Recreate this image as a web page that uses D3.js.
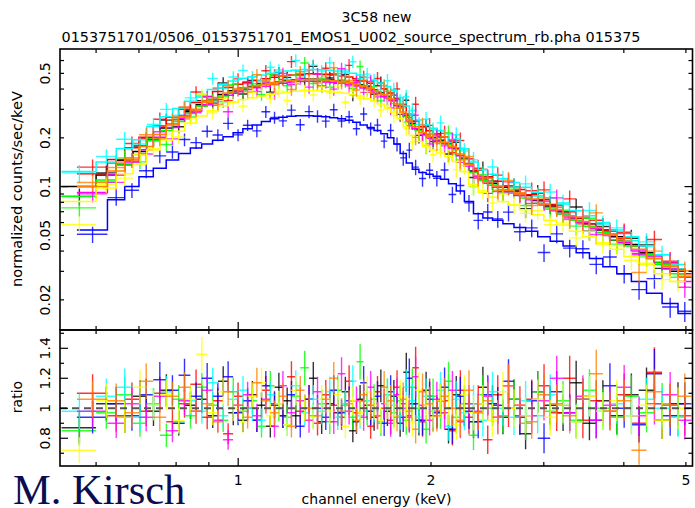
<!DOCTYPE html>
<html>
<head>
<meta charset="utf-8">
<script src="https://cdn.jsdelivr.net/npm/d3@7.9.0/dist/d3.min.js"></script>
<style>
  body { margin: 0; background: #fff; }
  svg { display: block; }
  text { font-family: "DejaVu Sans", sans-serif; fill: #000; }
  text.sig { font-family: "Liberation Serif", "Times New Roman", serif; fill: #0c0c50; }
</style>
</head>
<body>
<svg id="chart" width="695" height="508"></svg>
<script>
// bin edges in keV (two groupings, the spectra are binned differently)
const edgesA = [0.53, 0.60, 0.645, 0.685, 0.72, 0.755, 0.79, 0.825, 0.86, 0.895, 0.93, 0.965, 1.00, 1.035, 1.07, 1.105, 1.14, 1.175, 1.21, 1.25, 1.29, 1.33, 1.37, 1.41, 1.45, 1.49, 1.53, 1.57, 1.61, 1.65, 1.69, 1.73, 1.77, 1.81, 1.85, 1.89, 1.94, 1.99, 2.04, 2.10, 2.16, 2.22, 2.29, 2.37, 2.45, 2.54, 2.64, 2.75, 2.87, 3.00, 3.14, 3.29, 3.45, 3.62, 3.80, 4.00, 4.22, 4.46, 4.72, 5.00];
const edgesB = [0.56, 0.625, 0.665, 0.70, 0.737, 0.772, 0.807, 0.842, 0.877, 0.912, 0.947, 0.982, 1.017, 1.052, 1.087, 1.122, 1.157, 1.192, 1.23, 1.27, 1.31, 1.35, 1.39, 1.43, 1.47, 1.51, 1.55, 1.59, 1.63, 1.67, 1.71, 1.75, 1.79, 1.83, 1.87, 1.915, 1.965, 2.015, 2.07, 2.13, 2.19, 2.255, 2.33, 2.41, 2.495, 2.59, 2.695, 2.81, 2.935, 3.07, 3.215, 3.37, 3.535, 3.71, 3.90, 4.11, 4.34, 4.59, 4.86, 5.10];

// fractional 1-sigma errors per bin
const errA = [0.12, 0.11, 0.11, 0.1, 0.1, 0.095, 0.09, 0.09, 0.085, 0.085, 0.085, 0.085, 0.085, 0.085, 0.085, 0.085, 0.085, 0.085, 0.09, 0.09, 0.09, 0.09, 0.09, 0.09, 0.09, 0.09, 0.09, 0.095, 0.095, 0.095, 0.1, 0.1, 0.1, 0.105, 0.11, 0.11, 0.11, 0.11, 0.11, 0.11, 0.115, 0.12, 0.12, 0.12, 0.12, 0.12, 0.125, 0.125, 0.125, 0.125, 0.125, 0.125, 0.125, 0.13, 0.13, 0.13, 0.135, 0.135, 0.14];
const errB = [0.115, 0.11, 0.105, 0.1, 0.1, 0.09, 0.09, 0.085, 0.085, 0.085, 0.085, 0.085, 0.08, 0.085, 0.085, 0.085, 0.085, 0.085, 0.085, 0.09, 0.09, 0.09, 0.09, 0.09, 0.09, 0.09, 0.095, 0.095, 0.095, 0.095, 0.1, 0.1, 0.105, 0.11, 0.11, 0.11, 0.11, 0.11, 0.115, 0.115, 0.12, 0.12, 0.12, 0.12, 0.12, 0.125, 0.125, 0.125, 0.125, 0.125, 0.125, 0.13, 0.13, 0.13, 0.13, 0.135, 0.135, 0.14, 0.14];

// folded model, normalized counts/sec/keV
const modelBlack = [0.100, 0.118, 0.145, 0.165, 0.20, 0.23, 0.26, 0.29, 0.32, 0.345, 0.37, 0.39, 0.405, 0.415, 0.425, 0.435, 0.443, 0.45, 0.455, 0.46, 0.46, 0.458, 0.455, 0.45, 0.443, 0.435, 0.425, 0.41, 0.395, 0.38, 0.36, 0.34, 0.31, 0.275, 0.245, 0.225, 0.21, 0.2, 0.193, 0.185, 0.172, 0.15, 0.125, 0.112, 0.105, 0.099, 0.094, 0.088, 0.082, 0.076, 0.070, 0.064, 0.059, 0.054, 0.049, 0.044, 0.039, 0.034, 0.030];
const modelRed = [0.12, 0.147, 0.174, 0.202, 0.237, 0.268, 0.3, 0.331, 0.36, 0.386, 0.409, 0.428, 0.441, 0.452, 0.463, 0.474, 0.482, 0.488, 0.494, 0.497, 0.496, 0.493, 0.488, 0.483, 0.475, 0.464, 0.451, 0.435, 0.419, 0.4, 0.378, 0.351, 0.313, 0.281, 0.254, 0.234, 0.221, 0.212, 0.203, 0.191, 0.172, 0.148, 0.126, 0.115, 0.108, 0.101, 0.096, 0.089, 0.083, 0.077, 0.07, 0.064, 0.059, 0.054, 0.048, 0.043, 0.038, 0.034, 0.029];
const modelGreen = [0.087, 0.11, 0.138, 0.158, 0.192, 0.222, 0.252, 0.283, 0.313, 0.338, 0.363, 0.384, 0.4, 0.411, 0.421, 0.431, 0.439, 0.446, 0.451, 0.456, 0.456, 0.454, 0.451, 0.446, 0.439, 0.431, 0.421, 0.406, 0.391, 0.376, 0.356, 0.336, 0.306, 0.272, 0.242, 0.222, 0.207, 0.197, 0.19, 0.182, 0.169, 0.147, 0.122, 0.109, 0.102, 0.096, 0.091, 0.085, 0.079, 0.074, 0.068, 0.062, 0.057, 0.052, 0.047, 0.043, 0.038, 0.033, 0.029];
const modelBlue = [0.054, 0.083, 0.1, 0.115, 0.13, 0.146, 0.16, 0.173, 0.183, 0.193, 0.203, 0.215, 0.228, 0.24, 0.252, 0.262, 0.268, 0.272, 0.274, 0.274, 0.272, 0.27, 0.266, 0.262, 0.257, 0.25, 0.24, 0.232, 0.222, 0.212, 0.2, 0.183, 0.16, 0.14, 0.128, 0.122, 0.119, 0.116, 0.111, 0.104, 0.094, 0.081, 0.068, 0.064, 0.062, 0.059, 0.056, 0.053, 0.049, 0.046, 0.043, 0.039, 0.036, 0.032, 0.029, 0.026, 0.022, 0.019, 0.0165];
const modelCyan = [0.124, 0.142, 0.172, 0.195, 0.235, 0.27, 0.303, 0.336, 0.37, 0.398, 0.426, 0.448, 0.466, 0.477, 0.489, 0.5, 0.509, 0.517, 0.523, 0.529, 0.529, 0.527, 0.523, 0.517, 0.509, 0.5, 0.488, 0.471, 0.454, 0.436, 0.413, 0.39, 0.355, 0.315, 0.281, 0.258, 0.241, 0.229, 0.221, 0.212, 0.197, 0.171, 0.142, 0.127, 0.119, 0.112, 0.106, 0.099, 0.092, 0.085, 0.078, 0.071, 0.066, 0.06, 0.054, 0.049, 0.043, 0.038, 0.033];
const modelMagenta = [0.092, 0.118, 0.142, 0.169, 0.202, 0.232, 0.262, 0.292, 0.32, 0.345, 0.367, 0.385, 0.397, 0.407, 0.417, 0.427, 0.434, 0.44, 0.445, 0.447, 0.446, 0.443, 0.439, 0.434, 0.427, 0.418, 0.406, 0.391, 0.377, 0.359, 0.34, 0.316, 0.282, 0.252, 0.228, 0.211, 0.199, 0.191, 0.184, 0.173, 0.155, 0.134, 0.115, 0.105, 0.099, 0.093, 0.088, 0.083, 0.077, 0.071, 0.065, 0.06, 0.055, 0.05, 0.045, 0.04, 0.036, 0.031, 0.026];
const modelYellow = [0.081, 0.098, 0.12, 0.138, 0.168, 0.194, 0.22, 0.247, 0.273, 0.294, 0.316, 0.333, 0.345, 0.354, 0.362, 0.371, 0.377, 0.383, 0.388, 0.392, 0.392, 0.39, 0.388, 0.383, 0.377, 0.37, 0.362, 0.349, 0.336, 0.323, 0.306, 0.289, 0.263, 0.233, 0.207, 0.19, 0.177, 0.168, 0.161, 0.154, 0.143, 0.124, 0.103, 0.092, 0.086, 0.081, 0.077, 0.072, 0.067, 0.062, 0.058, 0.053, 0.049, 0.045, 0.041, 0.037, 0.033, 0.029, 0.026];
const modelOrange = [0.1, 0.125, 0.15, 0.177, 0.21, 0.24, 0.27, 0.3, 0.33, 0.355, 0.378, 0.396, 0.409, 0.419, 0.429, 0.439, 0.446, 0.452, 0.457, 0.459, 0.458, 0.455, 0.451, 0.446, 0.439, 0.429, 0.417, 0.402, 0.387, 0.369, 0.349, 0.324, 0.289, 0.259, 0.234, 0.216, 0.204, 0.196, 0.188, 0.177, 0.159, 0.137, 0.117, 0.107, 0.101, 0.095, 0.09, 0.084, 0.078, 0.072, 0.066, 0.061, 0.056, 0.051, 0.046, 0.041, 0.036, 0.032, 0.028];

// data / model
const ratioBlack = [0.87, 1.03, 0.94, 1.08, 0.98, 1.12, 0.90, 1.02, 1.06, 0.95, 1.18, 0.97, 0.92, 1.09, 1.02, 0.88, 1.14, 1.05, 0.95, 1.00, 1.20, 0.91, 1.03, 0.97, 1.11, 0.85, 1.06, 1.02, 0.94, 1.15, 0.98, 1.08, 0.90, 1.24, 1.03, 0.92, 1.12, 0.95, 1.05, 0.86, 1.09, 1.00, 0.91, 1.14, 1.03, 0.94, 1.06, 0.83, 1.11, 1.02, 0.97, 1.17, 0.90, 1.05, 0.95, 1.09, 1.12, 0.92, 1.03];
const ratioRed = [1.10, 0.95, 1.06, 0.98, 1.10, 0.91, 1.03, 1.16, 0.94, 1.05, 0.83, 1.08, 1.00, 0.92, 1.12, 1.03, 0.95, 1.21, 0.98, 1.06, 0.90, 1.09, 1.02, 0.94, 1.18, 0.97, 1.05, 0.88, 1.11, 1.00, 0.92, 1.14, 1.03, 0.95, 1.27, 0.91, 1.08, 0.98, 1.05, 0.85, 1.12, 0.94, 1.03, 0.79, 1.09, 1.00, 0.95, 1.06, 1.15, 0.97, 1.20, 0.92, 1.05, 0.98, 1.09, 0.90, 1.24, 1.02, 0.95];
const ratioGreen = [0.85, 0.97, 1.09, 0.90, 1.03, 0.82, 1.06, 0.95, 1.14, 1.02, 0.92, 1.11, 0.98, 1.05, 0.88, 1.15, 1.00, 0.94, 1.08, 1.27, 0.95, 1.03, 0.91, 1.12, 1.02, 0.94, 1.31, 0.98, 1.06, 0.90, 1.09, 0.97, 1.05, 0.92, 1.14, 1.00, 0.86, 1.08, 0.97, 1.18, 0.94, 1.03, 0.82, 1.09, 1.00, 0.95, 1.06, 0.90, 1.11, 0.98, 1.05, 0.92, 1.12, 1.00, 0.94, 1.08, 0.97, 1.03, 0.95];
const ratioBlue = [0.94, 1.03, 0.95, 1.09, 1.19, 1.12, 1.22, 1.08, 1.20, 1.08, 1.21, 0.97, 1.05, 0.92, 1.15, 1.02, 0.95, 1.09, 0.88, 1.06, 1.00, 0.94, 1.12, 0.97, 1.05, 0.91, 1.17, 0.98, 1.08, 0.90, 1.11, 1.00, 0.94, 1.20, 1.03, 0.92, 1.06, 0.97, 1.14, 0.86, 1.08, 0.98, 0.91, 1.09, 1.02, 1.18, 0.94, 1.05, 0.80, 1.11, 0.97, 1.06, 0.92, 1.15, 1.00, 0.89, 1.23, 0.95, 1.03];
const ratioCyan = [0.98, 1.08, 1.14, 0.94, 1.03, 1.11, 0.91, 1.05, 0.98, 1.17, 0.95, 1.06, 1.12, 1.00, 0.92, 1.09, 1.03, 0.89, 1.15, 0.97, 1.06, 0.98, 1.11, 0.94, 1.03, 1.18, 0.95, 1.05, 1.00, 0.91, 1.09, 1.02, 0.95, 1.14, 1.05, 0.94, 1.08, 0.98, 1.12, 0.88, 1.06, 0.97, 1.03, 0.92, 1.11, 1.00, 0.94, 1.05, 0.95, 1.09, 1.02, 0.91, 1.08, 0.98, 1.03, 0.95, 1.06, 1.00, 0.94];
const ratioMagenta = [0.98, 0.90, 1.03, 0.94, 1.08, 0.85, 1.05, 0.98, 1.12, 0.92, 0.79, 1.02, 1.09, 0.95, 1.06, 0.88, 1.15, 0.97, 1.05, 0.92, 1.11, 1.00, 0.91, 1.23, 0.98, 1.05, 0.94, 1.14, 0.95, 1.03, 0.90, 1.09, 1.00, 0.94, 1.21, 1.02, 0.92, 1.06, 0.97, 1.12, 0.91, 1.03, 0.98, 1.08, 0.94, 1.15, 1.02, 0.95, 1.05, 1.20, 0.97, 1.08, 0.92, 1.02, 1.14, 0.95, 1.03, 1.09, 0.92];
const ratioYellow = [0.72, 1.05, 0.94, 1.14, 1.02, 1.09, 0.92, 1.06, 1.36, 0.97, 1.11, 1.00, 0.91, 1.08, 1.17, 0.95, 1.03, 0.89, 1.12, 1.00, 0.94, 1.06, 0.98, 1.09, 0.88, 1.05, 0.97, 1.11, 1.02, 0.92, 1.03, 0.95, 1.08, 0.98, 0.91, 1.12, 1.02, 0.94, 1.05, 1.00, 0.89, 1.09, 0.97, 1.03, 0.92, 1.11, 1.00, 0.95, 1.06, 0.94, 1.03, 0.91, 1.08, 0.98, 1.05, 0.95, 1.02, 0.92, 1.00];
const ratioOrange = [1.06, 1.05, 0.97, 1.18, 0.94, 1.08, 1.14, 0.98, 1.03, 0.91, 1.11, 1.02, 0.94, 1.17, 1.05, 0.97, 1.08, 0.88, 1.12, 1.00, 0.95, 1.06, 1.20, 0.98, 1.03, 0.92, 1.09, 1.02, 0.95, 1.14, 1.05, 0.94, 1.06, 0.98, 0.86, 1.11, 1.03, 0.95, 1.08, 1.00, 0.92, 1.12, 0.97, 1.05, 0.94, 1.15, 1.02, 0.91, 1.09, 1.03, 0.95, 1.06, 1.23, 0.98, 1.05, 0.72, 1.11, 1.02, 1.08];

// axis ticks
const xMajor = [1];
const xMinor = [0.6, 0.7, 0.8, 0.9, 2, 3, 4, 5];
const xTickLabels = [1, 2, 5];
const yMajor = [0.1];
const yMinor = [0.02, 0.03, 0.04, 0.05, 0.06, 0.07, 0.08, 0.09, 0.2, 0.3, 0.4, 0.5, 0.6];
const yTickLabels = [0.02, 0.05, 0.1, 0.2, 0.5];
const rMajor = [0.8, 1.0, 1.2, 1.4];
const rMinor = [0.7, 0.9, 1.1, 1.3, 1.5];
const rTickLabels = ["0.8", "1", "1.2", "1.4"];

const spectra = [
  { color: "#000000", edges: edgesA, err: errA, model: modelBlack, ratio: ratioBlack },
  { color: "#ff0000", edges: edgesB, err: errB, model: modelRed, ratio: ratioRed },
  { color: "#00ff00", edges: edgesA, err: errA, model: modelGreen, ratio: ratioGreen },
  { color: "#0000ff", edges: edgesB, err: errB, model: modelBlue, ratio: ratioBlue },
  { color: "#00ffff", edges: edgesA, err: errA, model: modelCyan, ratio: ratioCyan },
  { color: "#ff00ff", edges: edgesB, err: errB, model: modelMagenta, ratio: ratioMagenta },
  { color: "#ffff00", edges: edgesA, err: errA, model: modelYellow, ratio: ratioYellow },
  { color: "#ff8000", edges: edgesB, err: errB, model: modelOrange, ratio: ratioOrange }
];

const svg = d3.select("#chart");
const pLeft = 60, pRight = 692.5, pTop = 49, pMid = 330, pBottom = 466;

const x = d3.scaleLog().domain([0.527, 5.12]).range([pLeft, pRight]);
const yTop = d3.scaleLog().domain([0.01303, 0.707]).range([pMid, pTop]);
const yRat = d3.scaleLinear().domain([0.615, 1.522]).range([pBottom, pMid]);

const defs = svg.append("defs");
defs.append("clipPath").attr("id", "clipTop")
  .append("rect").attr("x", pLeft).attr("y", pTop).attr("width", pRight - pLeft).attr("height", pMid - pTop);
defs.append("clipPath").attr("id", "clipBot")
  .append("rect").attr("x", pLeft).attr("y", pMid).attr("width", pRight - pLeft).attr("height", pBottom - pMid);

const gTop = svg.append("g").attr("clip-path", "url(#clipTop)");
const gBot = svg.append("g").attr("clip-path", "url(#clipBot)");

const step = d3.line()
  .x(p => x(p[0]))
  .y(p => yTop(p[1]))
  .curve(d3.curveStepAfter);

spectra.forEach(s => {
  const n = Math.min(s.model.length, s.ratio.length, s.edges.length - 1);
  const bins = d3.range(n).map(i => {
    const e0 = s.edges[i], e1 = s.edges[i + 1];
    return { e0, e1, ec: (e0 + e1) / 2, m: s.model[i], r: s.ratio[i], er: s.err[i] };
  });

  // data crosses, upper panel
  const gt = gTop.append("g")
    .attr("stroke", s.color)
    .attr("stroke-width", 1.4)
    .attr("stroke-opacity", 0.8);
  gt.selectAll(".h").data(bins).join("line").attr("class", "h")
    .attr("x1", d => x(d.e0)).attr("x2", d => x(d.e1))
    .attr("y1", d => yTop(d.m * d.r)).attr("y2", d => yTop(d.m * d.r));
  gt.selectAll(".v").data(bins).join("line").attr("class", "v")
    .attr("x1", d => x(d.ec)).attr("x2", d => x(d.ec))
    .attr("y1", d => yTop(d.m * d.r * (1 - d.er))).attr("y2", d => yTop(d.m * d.r * (1 + d.er)));

  // model histogram
  const pts = bins.map(b => [b.e0, b.m]);
  pts.push([bins[n - 1].e1, bins[n - 1].m]);
  gTop.append("path")
    .attr("d", step(pts))
    .attr("fill", "none")
    .attr("stroke", s.color)
    .attr("stroke-width", 1.5);

  // ratio crosses, lower panel
  const gb = gBot.append("g")
    .attr("stroke", s.color)
    .attr("stroke-width", 1.4)
    .attr("stroke-opacity", 0.8);
  gb.selectAll(".h").data(bins).join("line").attr("class", "h")
    .attr("x1", d => x(d.e0)).attr("x2", d => x(d.e1))
    .attr("y1", d => yRat(d.r)).attr("y2", d => yRat(d.r));
  gb.selectAll(".v").data(bins).join("line").attr("class", "v")
    .attr("x1", d => x(d.ec)).attr("x2", d => x(d.ec))
    .attr("y1", d => yRat(d.r * (1 - d.er))).attr("y2", d => yRat(d.r * (1 + d.er)));
});

// unity line in the ratio panel
gBot.append("line")
  .attr("x1", pLeft).attr("x2", pRight)
  .attr("y1", yRat(1)).attr("y2", yRat(1))
  .attr("stroke", "#555")
  .attr("stroke-width", 2)
  .attr("stroke-dasharray", "7,5");

// frames
const frame = svg.append("g").attr("fill", "none").attr("stroke", "#000").attr("stroke-width", 1.6);
frame.append("rect").attr("x", pLeft).attr("y", pTop).attr("width", pRight - pLeft).attr("height", pMid - pTop);
frame.append("rect").attr("x", pLeft).attr("y", pMid).attr("width", pRight - pLeft).attr("height", pBottom - pMid);

// inward ticks
const tk = svg.append("g").attr("stroke", "#000").attr("stroke-width", 1.2);
function xTicks(vals, len) {
  vals.forEach(v => {
    const px = x(v);
    [[pTop, len], [pMid, -len], [pMid, len], [pBottom, -len]].forEach(([y0, l]) => {
      tk.append("line").attr("x1", px).attr("x2", px).attr("y1", y0).attr("y2", y0 + l);
    });
  });
}
function yTicks(scale, vals, len) {
  vals.forEach(v => {
    const py = scale(v);
    tk.append("line").attr("x1", pLeft).attr("x2", pLeft + len).attr("y1", py).attr("y2", py);
    tk.append("line").attr("x1", pRight).attr("x2", pRight - len).attr("y1", py).attr("y2", py);
  });
}
xTicks(xMajor, 8);
xTicks(xMinor, 4);
yTicks(yTop, yMajor, 8);
yTicks(yTop, yMinor, 4);
yTicks(yRat, rMajor, 8);
yTicks(yRat, rMinor, 4);

// tick labels
svg.append("g").selectAll("text").data(xTickLabels).join("text")
  .attr("x", d => x(d)).attr("y", 485)
  .attr("text-anchor", "middle")
  .attr("font-size", 14)
  .text(d => d);

svg.append("g").selectAll("text").data(yTickLabels).join("text")
  .attr("transform", d => `translate(50,${yTop(d)}) rotate(-90)`)
  .attr("text-anchor", "middle")
  .attr("font-size", 14)
  .text(d => d);

svg.append("g").selectAll("text").data(rTickLabels).join("text")
  .attr("transform", d => `translate(50,${yRat(+d)}) rotate(-90)`)
  .attr("text-anchor", "middle")
  .attr("font-size", 14)
  .text(d => d);

// axis titles
svg.append("text")
  .attr("transform", "translate(22,189) rotate(-90)")
  .attr("text-anchor", "middle")
  .attr("font-size", 14.6)
  .text("normalized counts/sec/keV");

svg.append("text")
  .attr("transform", "translate(22,397) rotate(-90)")
  .attr("text-anchor", "middle")
  .attr("font-size", 14)
  .text("ratio");

svg.append("text")
  .attr("x", 376.5).attr("y", 504)
  .attr("text-anchor", "middle")
  .attr("font-size", 14)
  .text("channel energy (keV)");

svg.append("text")
  .attr("x", 376.5).attr("y", 22)
  .attr("text-anchor", "middle")
  .attr("font-size", 14)
  .text("3C58 new");

svg.append("text")
  .attr("x", 351).attr("y", 41.5)
  .attr("text-anchor", "middle")
  .attr("font-size", 14.4)
  .text("0153751701/0506_0153751701_EMOS1_U002_source_spectrum_rb.pha 015375");

svg.append("text")
  .attr("class", "sig")
  .attr("x", 13).attr("y", 504)
  .attr("font-size", 42.5)
  .text("M. Kirsch");
</script>
</body>
</html>
